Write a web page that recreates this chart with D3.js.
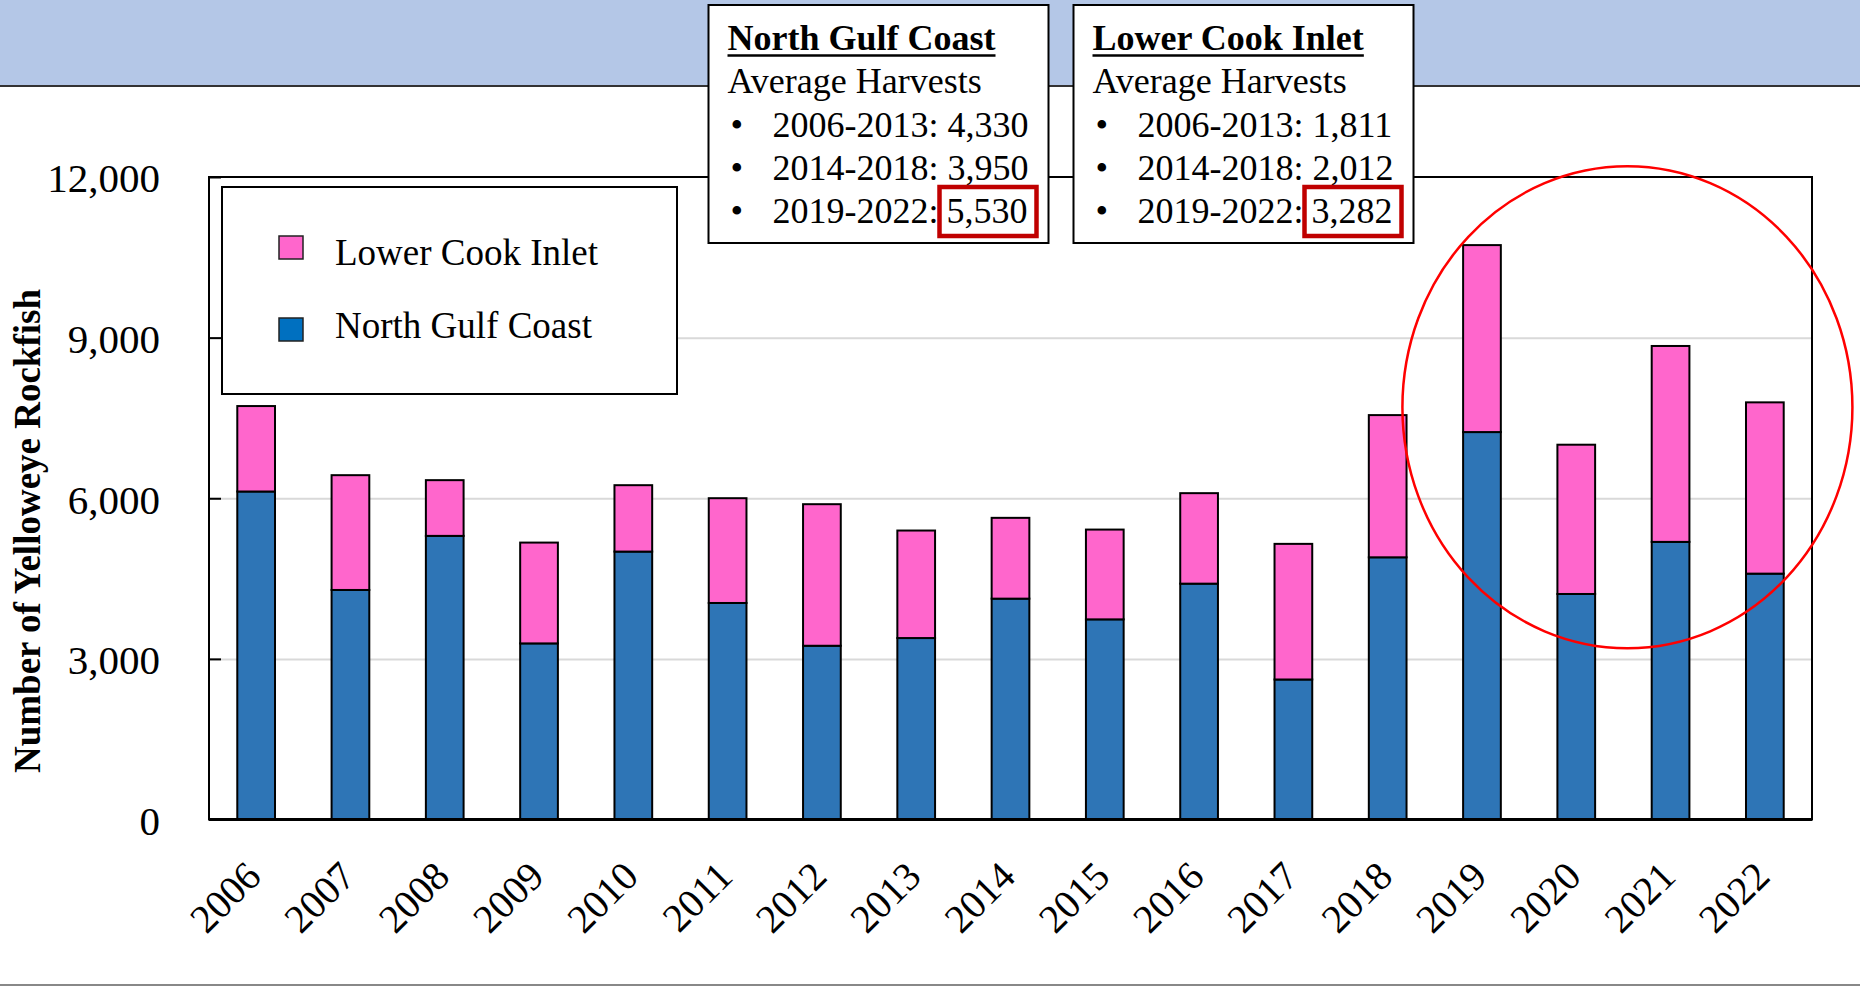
<!DOCTYPE html>
<html>
<head>
<meta charset="utf-8">
<script src="https://cdn.jsdelivr.net/npm/d3@7"></script>
<style>
    body { margin: 0; background: #fff; }
    svg { display: block; font-family: "Liberation Serif", "Times New Roman", serif; }
</style>
</head>
<body>
<svg id="chart" width="1860" height="986"></svg>
<script>
var years = ["2006", "2007", "2008", "2009", "2010", "2011", "2012", "2013", "2014",
             "2015", "2016", "2017", "2018", "2019", "2020", "2021", "2022"];
var northGulfCoast = [6126, 4287, 5297, 3289, 5004, 4044, 3245, 3389, 4125,
                      3738, 4405, 2615, 4897, 7236, 4212, 5185, 4592];
var lowerCookInlet = [1596, 2144, 1041, 1883, 1240, 1957, 2644, 2008, 1509,
                      1677, 1690, 2533, 2656, 3492, 2788, 3659, 3199];
var yTicks = [0, 3000, 6000, 9000, 12000];

var periods = ["2006-2013", "2014-2018", "2019-2022"];
var ngcAverages = ["4,330", "3,950", "5,530"];
var lciAverages = ["1,811", "2,012", "3,282"];

var colors = {"North Gulf Coast": "#2E75B6", "Lower Cook Inlet": "#FF66CC"};
var legendColors = {"North Gulf Coast": "#0070C0", "Lower Cook Inlet": "#FF66CC"};

var svg = d3.select("#chart");
var margin = {top: 177, right: 48, bottom: 166.5, left: 209};
var width = +svg.attr("width") - margin.left - margin.right;
var height = +svg.attr("height") - margin.top - margin.bottom;

// header band
svg.append("rect")
        .attr("x", 0).attr("y", 0)
        .attr("width", 1860).attr("height", 86)
        .attr("fill", "#B4C7E7");
svg.append("line")
        .attr("x1", 0).attr("x2", 1860)
        .attr("y1", 86).attr("y2", 86)
        .attr("stroke", "#333").attr("stroke-width", 2);

// bottom rule
svg.append("line")
        .attr("x1", 0).attr("x2", 1860)
        .attr("y1", 985).attr("y2", 985)
        .attr("stroke", "#888").attr("stroke-width", 2);

var rows = years.map(function (yr, i) {
    return {year: yr, "North Gulf Coast": northGulfCoast[i], "Lower Cook Inlet": lowerCookInlet[i]};
});
var keys = ["North Gulf Coast", "Lower Cook Inlet"];
var stacked = d3.stack().keys(keys)(rows);

var x = d3.scaleBand()
        .domain(years)
        .range([0, width])
        .paddingInner(0.6)
        .paddingOuter(0.3);

var y = d3.scaleLinear()
        .domain([0, 12000])
        .range([height, 0]);

var g = svg.append("g").attr("transform", "translate(" + margin.left + "," + margin.top + ")");

// gridlines
var grid = g.append("g")
        .call(d3.axisLeft(y).tickValues([3000, 6000, 9000]).tickSize(-width).tickFormat(""));
grid.select(".domain").remove();
grid.selectAll("line").attr("stroke", "#D9D9D9").attr("stroke-width", 2);

// bars
g.append("g")
        .selectAll("g")
        .data(stacked)
        .enter().append("g")
        .attr("fill", function (d) {
            return colors[d.key];
        })
        .selectAll("rect")
        .data(function (d) {
            return d;
        })
        .enter().append("rect")
        .attr("x", function (d) {
            return x(d.data.year);
        })
        .attr("y", function (d) {
            return y(d[1]);
        })
        .attr("width", x.bandwidth())
        .attr("height", function (d) {
            return y(d[0]) - y(d[1]);
        })
        .attr("stroke", "#000")
        .attr("stroke-width", 2);

// y axis (inward ticks)
var yAxis = g.append("g")
        .call(d3.axisLeft(y).tickValues(yTicks).tickSizeInner(-12).tickSizeOuter(0)
                .tickPadding(49).tickFormat(d3.format(",")));
yAxis.select(".domain").remove();
yAxis.selectAll("line").attr("stroke", "#000").attr("stroke-width", 2);
yAxis.selectAll("text")
        .attr("fill", "#000")
        .attr("dy", "0.36em")
        .style("font-family", "'Liberation Serif', 'Times New Roman', serif")
        .style("font-size", "41px");

// x axis
var xAxis = g.append("g")
        .attr("transform", "translate(0," + height + ")")
        .call(d3.axisBottom(x).tickSize(0));
xAxis.select(".domain").remove();
xAxis.selectAll("text")
        .attr("x", 0).attr("y", 0).attr("dy", 0)
        .attr("transform", "translate(7,59) rotate(-45)")
        .attr("fill", "#000")
        .style("text-anchor", "end")
        .style("font-family", "'Liberation Serif', 'Times New Roman', serif")
        .style("font-size", "40px");

// plot frame
g.append("rect")
        .attr("width", width).attr("height", height)
        .attr("fill", "none")
        .attr("stroke", "#000").attr("stroke-width", 2);
g.append("line")
        .attr("x1", 0).attr("x2", width)
        .attr("y1", height).attr("y2", height)
        .attr("stroke", "#000").attr("stroke-width", 3);

// y title
svg.append("text")
        .attr("transform", "translate(40,531) rotate(-90)")
        .attr("text-anchor", "middle")
        .style("font-weight", "bold")
        .style("font-size", "37px")
        .text("Number of Yelloweye Rockfish");

// legend
var legend = svg.append("g");
legend.append("rect")
        .attr("x", 222).attr("y", 187)
        .attr("width", 455).attr("height", 207)
        .attr("fill", "#fff")
        .attr("stroke", "#000").attr("stroke-width", 2);
var legendKeys = ["Lower Cook Inlet", "North Gulf Coast"];
legendKeys.forEach(function (k, i) {
    legend.append("rect")
            .attr("x", 279).attr("y", 236 + i * 82)
            .attr("width", 24).attr("height", 23)
            .attr("fill", legendColors[k])
            .attr("stroke", "#222").attr("stroke-width", 1.5);
    legend.append("text")
            .attr("x", 335).attr("y", 265 + i * 73)
            .style("font-size", "37px")
            .text(k);
});

// average boxes
function statBox(bx, title, values) {
    var box = svg.append("g");
    box.append("rect")
            .attr("x", bx).attr("y", 5)
            .attr("width", 340).attr("height", 238)
            .attr("fill", "#fff")
            .attr("stroke", "#000").attr("stroke-width", 2);
    var t = box.append("text")
            .attr("x", bx + 19).attr("y", 50)
            .style("font-size", "36px")
            .style("font-weight", "bold")
            .text(title);
    box.append("line")
            .attr("x1", bx + 19).attr("x2", bx + 19 + t.node().getComputedTextLength())
            .attr("y1", 55.5).attr("y2", 55.5)
            .attr("stroke", "#000").attr("stroke-width", 2.5);
    box.append("text")
            .attr("x", bx + 19).attr("y", 92.5)
            .style("font-size", "36px")
            .text("Average Harvests");
    var base = [137, 180, 223];
    periods.forEach(function (p, i) {
        box.append("text")
                .attr("x", bx + 22).attr("y", base[i])
                .style("font-size", "36px")
                .text("\u2022");
        var line = box.append("text")
                .attr("x", bx + 64).attr("y", base[i])
                .style("font-size", "36px");
        line.append("tspan").text(p + ":" + (i === 2 ? "" : " "));
        var v = line.append("tspan").text(values[i]);
        if (i === 2) {
            v.attr("dx", 8);
            var bb = v.node().getBBox();
            box.append("rect")
                    .attr("x", bb.x - 7).attr("y", base[i] - 36)
                    .attr("width", bb.width + 16).attr("height", 49)
                    .attr("fill", "none")
                    .attr("stroke", "#C00000").attr("stroke-width", 4.5);
        }
    });
}
statBox(708.5, "North Gulf Coast", ngcAverages);
statBox(1073.5, "Lower Cook Inlet", lciAverages);

// highlight ellipse round 2019-2022
var cx = margin.left + (x("2019") + x("2022") + x.bandwidth()) / 2 + 4;
svg.append("ellipse")
        .attr("cx", cx)
        .attr("cy", margin.top + y(7700))
        .attr("rx", 225).attr("ry", 241)
        .attr("fill", "none")
        .attr("stroke", "#FF0000").attr("stroke-width", 2.5);
</script>
</body>
</html>
